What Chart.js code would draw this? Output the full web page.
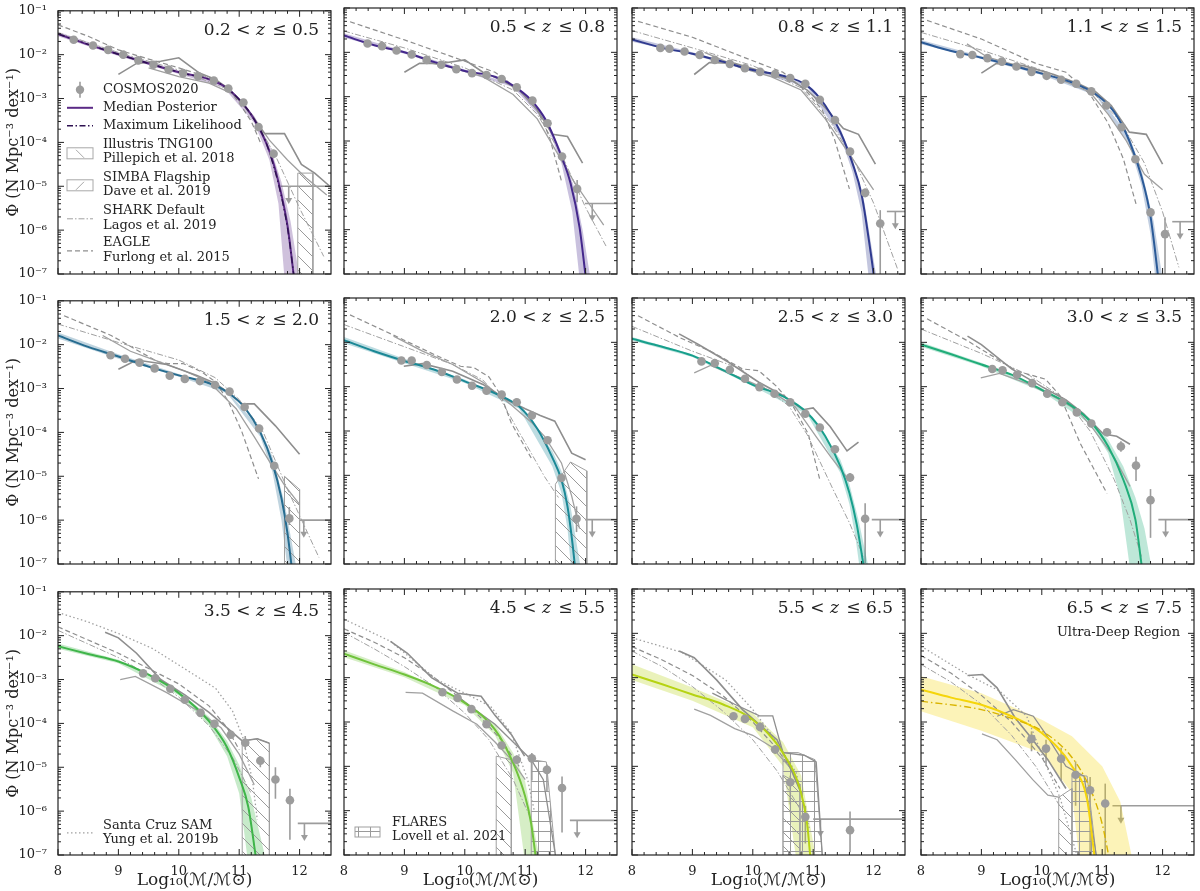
<!DOCTYPE html>
<html>
<head>
<meta charset="utf-8">
<script src="https://cdn.jsdelivr.net/npm/chart.js@4.4.0/dist/chart.umd.min.js"></script>
<style>
  html, body { margin: 0; padding: 0; background: #fff; }
  #wrap { position: relative; width: 1200px; height: 891px; overflow: hidden; }
  .panel { position: absolute; }
</style>
</head>
<body>
<div id="wrap"></div>
<script>
// ---- redshift bins ----
const zLo = ['0.2', '0.5', '0.8', '1.1', '1.5', '2.0', '2.5', '3.0', '3.5', '4.5', '5.5', '6.5'];
const zHi = ['0.5', '0.8', '1.1', '1.5', '2.0', '2.5', '3.0', '3.5', '4.5', '5.5', '6.5', '7.5'];

// ---- COSMOS2020 points (x = log10 M, y = log10 Phi) ----
const cosmosX = [
  [8.26, 8.58, 8.83, 9.08, 9.33, 9.58, 9.83, 10.07, 10.32, 10.58, 10.82, 11.07, 11.32, 11.57],
  [8.39, 8.63, 8.87, 9.12, 9.37, 9.61, 9.86, 10.12, 10.36, 10.61, 10.86, 11.12, 11.37, 11.61, 11.86],
  [8.47, 8.62, 8.87, 9.12, 9.37, 9.62, 9.87, 10.12, 10.37, 10.62, 10.87, 11.11, 11.36, 11.61, 11.86, 12.11],
  [8.65, 8.85, 9.1, 9.34, 9.58, 9.83, 10.08, 10.32, 10.57, 10.82, 11.07, 11.32, 11.55, 11.8, 12.04],
  [8.87, 9.11, 9.35, 9.6, 9.85, 10.1, 10.35, 10.6, 10.84, 11.09, 11.33, 11.58, 11.83],
  [8.95, 9.12, 9.37, 9.62, 9.87, 10.12, 10.36, 10.61, 10.86, 11.11, 11.37, 11.6, 11.85],
  [9.15, 9.37, 9.62, 9.87, 10.11, 10.36, 10.62, 10.87, 11.11, 11.36, 11.61, 11.86],
  [9.18, 9.35, 9.59, 9.84, 10.09, 10.34, 10.58, 10.82, 11.08, 11.31, 11.56, 11.8],
  [9.41, 9.61, 9.86, 10.1, 10.36, 10.59, 10.86, 11.1, 11.35, 11.6, 11.84],
  [9.63, 9.88, 10.11, 10.36, 10.61, 10.86, 11.11, 11.36, 11.61],
  [9.68, 9.87, 10.12, 10.37, 10.62, 10.87, 11.61],
  [9.83, 10.07, 10.32, 10.56, 10.8, 11.05]
];
const cosmosLogY = [
  [-1.66, -1.79, -1.89, -2.0, -2.13, -2.23, -2.34, -2.42, -2.49, -2.59, -2.77, -3.09, -3.65, -4.26],
  [-1.80, -1.86, -1.96, -2.05, -2.17, -2.28, -2.38, -2.47, -2.51, -2.60, -2.79, -3.09, -3.60, -4.35, -5.08],
  [-1.90, -1.92, -1.98, -2.06, -2.17, -2.26, -2.36, -2.44, -2.49, -2.58, -2.71, -3.07, -3.53, -4.24, -5.17, -5.86],
  [-2.04, -2.06, -2.13, -2.21, -2.32, -2.44, -2.53, -2.62, -2.71, -2.88, -3.2, -3.69, -4.41, -5.61, -6.1],
  [-2.24, -2.32, -2.41, -2.54, -2.71, -2.78, -2.83, -2.92, -3.07, -3.42, -3.91, -4.76, -5.96],
  [-2.41, -2.41, -2.51, -2.67, -2.84, -2.98, -3.09, -3.18, -3.35, -3.65, -4.21, -5.06, -5.98],
  [-2.43, -2.47, -2.62, -2.82, -3.01, -3.16, -3.35, -3.61, -3.92, -4.41, -5.05, -5.98],
  [-2.6, -2.63, -2.73, -2.92, -3.16, -3.35, -3.58, -3.83, -4.03, -4.35, -4.78, -5.56],
  [-2.86, -2.97, -3.21, -3.46, -3.76, -4.01, -4.26, -4.44, -4.85, -5.28, -5.75],
  [-3.33, -3.46, -3.71, -4.05, -4.53, -4.85, -4.82, -5.08, -5.49],
  [-3.87, -3.93, -4.11, -4.62, -5.36, -6.14, -6.44],
  [-4.38, -4.6, -4.83, -5.19, -5.54, -5.84]
];
// error bar half-lengths in dex (up / down)
const errUp = [
  [0.02, 0.02, 0.02, 0.02, 0.02, 0.02, 0.02, 0.02, 0.02, 0.02, 0.02, 0.03, 0.05, 0.1],
  [0.02, 0.02, 0.02, 0.02, 0.02, 0.02, 0.02, 0.02, 0.02, 0.02, 0.02, 0.03, 0.04, 0.08, 0.2],
  [0.02, 0.02, 0.02, 0.02, 0.02, 0.02, 0.02, 0.02, 0.02, 0.02, 0.02, 0.03, 0.04, 0.06, 0.1, 0.3],
  [0.02, 0.02, 0.02, 0.02, 0.02, 0.02, 0.02, 0.02, 0.02, 0.02, 0.03, 0.04, 0.06, 0.1, 0.38],
  [0.02, 0.02, 0.02, 0.02, 0.02, 0.02, 0.02, 0.02, 0.03, 0.04, 0.05, 0.08, 0.26],
  [0.02, 0.02, 0.02, 0.02, 0.02, 0.02, 0.02, 0.02, 0.03, 0.04, 0.06, 0.1, 0.28],
  [0.02, 0.02, 0.02, 0.02, 0.02, 0.02, 0.03, 0.04, 0.05, 0.07, 0.1, 0.35],
  [0.02, 0.02, 0.02, 0.02, 0.03, 0.03, 0.04, 0.05, 0.07, 0.12, 0.2, 0.25],
  [0.03, 0.03, 0.03, 0.04, 0.04, 0.05, 0.07, 0.15, 0.1, 0.28, 0.26],
  [0.05, 0.05, 0.06, 0.07, 0.08, 0.1, 0.12, 0.12, 0.26],
  [0.08, 0.08, 0.1, 0.1, 0.15, 0.25, 0.42],
  [0.17, 0.2, 0.25, 0.3, 0.3, 0.45]
];
const errDn = [
  [0.02, 0.02, 0.02, 0.02, 0.02, 0.02, 0.02, 0.02, 0.02, 0.02, 0.02, 0.03, 0.05, 0.1],
  [0.02, 0.02, 0.02, 0.02, 0.02, 0.02, 0.02, 0.02, 0.02, 0.02, 0.02, 0.03, 0.04, 0.08, 0.3],
  [0.02, 0.02, 0.02, 0.02, 0.02, 0.02, 0.02, 0.02, 0.02, 0.02, 0.02, 0.03, 0.04, 0.06, 0.1, 2.0],
  [0.02, 0.02, 0.02, 0.02, 0.02, 0.02, 0.02, 0.02, 0.02, 0.02, 0.03, 0.04, 0.06, 0.1, 2.0],
  [0.02, 0.02, 0.02, 0.02, 0.02, 0.02, 0.02, 0.02, 0.03, 0.04, 0.05, 0.08, 0.15],
  [0.02, 0.02, 0.02, 0.02, 0.02, 0.02, 0.02, 0.02, 0.03, 0.04, 0.06, 0.1, 0.3],
  [0.02, 0.02, 0.02, 0.02, 0.02, 0.02, 0.03, 0.04, 0.05, 0.07, 0.1, 1.0],
  [0.02, 0.02, 0.02, 0.02, 0.03, 0.03, 0.04, 0.05, 0.07, 0.12, 0.35, 0.85],
  [0.03, 0.03, 0.03, 0.04, 0.04, 0.05, 0.07, 0.15, 0.15, 0.44, 0.9],
  [0.05, 0.05, 0.06, 0.07, 0.08, 0.1, 0.5, 0.5, 1.0],
  [0.08, 0.08, 0.1, 0.1, 0.5, 0.6, 0.5],
  [0.28, 0.38, 0.5, 0.7, 1.5, 1.5]
];

// ---- upper limits (log10 Phi level, x range, arrow position) ----
const limLogY = [-5.0, -5.41, -5.59, -5.82, -6.0, -6.0, -6.0, -6.0, -6.28, -6.22, -6.19, -5.89];
const limX0 = [11.69, 11.99, 12.22, 12.16, 11.99, 11.99, 11.97, 11.93, 11.97, 11.74, 11.0, 11.17];
const limX1 = [12.6, 12.6, 12.6, 12.6, 12.6, 12.6, 12.6, 12.6, 12.6, 12.6, 12.6, 12.6];
const limArrowX = [11.82, 12.11, 12.36, 12.29, 12.07, 12.11, 12.11, 12.05, 12.08, 11.86, 11.12, 11.31];

// ---- median posterior ----
const medX = [
  [8, 8.5, 9, 9.5, 10, 10.5, 10.75, 11, 11.25, 11.5, 11.65, 11.8, 11.9, 12.0],
  [8, 8.5, 9, 9.5, 10, 10.5, 10.8, 11.1, 11.35, 11.6, 11.75, 11.9, 12.0, 12.1],
  [8, 8.5, 9, 9.5, 10, 10.5, 10.9, 11.2, 11.45, 11.65, 11.8, 11.95, 12.0, 12.1],
  [8, 8.5, 9, 9.5, 10, 10.5, 10.9, 11.2, 11.45, 11.65, 11.8, 11.92, 12.0],
  [8, 8.5, 9, 9.5, 10, 10.5, 10.8, 11.1, 11.35, 11.55, 11.7, 11.8, 11.88, 11.95],
  [8, 8.5, 9, 9.5, 10, 10.5, 10.9, 11.2, 11.45, 11.6, 11.7, 11.78, 11.85],
  [8, 8.5, 9, 9.5, 10, 10.5, 10.9, 11.2, 11.45, 11.6, 11.72, 11.83, 11.9],
  [8, 8.5, 9, 9.5, 10, 10.5, 10.8, 11.1, 11.35, 11.55, 11.65, 11.75],
  [8, 8.5, 9, 9.5, 10, 10.5, 10.8, 11.0, 11.15, 11.27, 11.35],
  [8, 8.5, 9, 9.5, 10, 10.5, 10.8, 11.0, 11.1, 11.17, 11.25],
  [8, 8.5, 9, 9.5, 10, 10.5, 10.8, 10.9, 10.95, 11.02],
  [8, 8.5, 9, 9.5, 10, 10.5, 10.75, 10.87, 10.95]
];
const medLogY = [
  [-1.53, -1.77, -1.99, -2.2, -2.4, -2.56, -2.72, -3.02, -3.48, -4.2, -4.9, -5.9, -7.0, -8.2],
  [-1.62, -1.84, -2.0, -2.22, -2.42, -2.55, -2.75, -3.08, -3.55, -4.35, -4.95, -5.95, -7.05, -8.2],
  [-1.71, -1.9, -2.03, -2.21, -2.4, -2.53, -2.75, -3.2, -3.8, -4.5, -5.2, -6.5, -7.0, -8.2],
  [-1.77, -1.97, -2.12, -2.29, -2.48, -2.68, -2.95, -3.35, -4.0, -4.8, -5.7, -7.0, -8.0],
  [-1.79, -2.05, -2.27, -2.5, -2.7, -2.88, -3.08, -3.45, -4.0, -4.7, -5.5, -6.3, -7.2, -8.0],
  [-1.95, -2.2, -2.42, -2.62, -2.88, -3.15, -3.45, -3.95, -4.6, -5.1, -5.7, -6.5, -7.4],
  [-1.92, -2.1, -2.3, -2.62, -2.96, -3.22, -3.59, -4.12, -4.8, -5.4, -6.1, -7.0, -7.6],
  [-2.05, -2.27, -2.5, -2.73, -3.07, -3.44, -3.78, -4.35, -5.1, -6.0, -7.0, -8.0],
  [-2.24, -2.42, -2.59, -2.89, -3.31, -3.95, -4.55, -5.23, -5.9, -7.0, -7.8],
  [-2.46, -2.7, -2.93, -3.2, -3.57, -4.17, -4.92, -5.68, -6.3, -7.0, -7.8],
  [-2.93, -3.15, -3.38, -3.6, -3.95, -4.7, -5.6, -6.3, -7.0, -7.8],
  [-3.27, -3.45, -3.61, -3.87, -4.25, -5.0, -5.75, -7.0, -7.8]
];

// ---- maximum likelihood (only where it separates visibly) ----
const mlX = [
  [8, 9, 10, 10.75, 11.25, 11.5, 11.8, 11.92],
  null, null, null, null, null, null, null, null, null, null,
  [8, 9, 9.5, 10, 10.5, 10.8, 11.0, 11.12]
];
const mlLogY = [
  [-1.53, -1.99, -2.4, -2.72, -3.48, -4.22, -5.95, -7.2],
  null, null, null, null, null, null, null, null, null, null,
  [-3.53, -3.72, -3.92, -4.2, -4.8, -5.5, -6.3, -7.1]
];

// ---- posterior band edges ----
const bandHiX = [
  [8, 9, 10, 10.75, 11.25, 11.5, 11.7, 11.85, 12.0],
  [8, 9, 10, 10.8, 11.35, 11.6, 11.8, 11.95, 12.08],
  [8, 9, 10, 10.9, 11.45, 11.65, 11.85, 12.05],
  [8, 9, 10, 10.9, 11.45, 11.65, 11.85, 12.0],
  [8, 9, 10, 10.8, 11.35, 11.55, 11.75, 11.95],
  [8, 9, 10, 10.9, 11.45, 11.6, 11.75, 11.92],
  [8, 9, 10, 10.9, 11.45, 11.6, 11.75, 11.92],
  [8, 9, 10, 10.8, 11.1, 11.35, 11.55, 11.7, 11.82],
  [8, 9, 10, 10.5, 10.8, 11.0, 11.2, 11.44],
  [8, 9, 10, 10.5, 10.8, 11.0, 11.24],
  [8, 9, 10, 10.5, 10.8, 11.05],
  [8, 9, 10, 10.5, 11.0, 11.3, 11.5]
];
const bandHiLogY = [
  [-1.48, -1.95, -2.36, -2.68, -3.4, -4.05, -4.9, -5.8, -7.1],
  [-1.57, -1.97, -2.39, -2.72, -3.5, -4.25, -5.0, -6.0, -7.1],
  [-1.66, -2.0, -2.37, -2.72, -3.72, -4.4, -5.4, -7.1],
  [-1.72, -2.09, -2.45, -2.92, -3.9, -4.65, -5.8, -7.1],
  [-1.72, -2.22, -2.67, -3.05, -3.92, -4.55, -5.6, -7.1],
  [-1.88, -2.37, -2.84, -3.4, -4.45, -4.9, -5.7, -7.1],
  [-1.88, -2.27, -2.93, -3.55, -4.65, -5.2, -6.0, -7.1],
  [-2.0, -2.46, -3.03, -3.72, -4.2, -4.8, -5.5, -6.2, -7.1],
  [-2.18, -2.55, -3.26, -3.85, -4.4, -4.95, -5.7, -7.1],
  [-2.38, -2.87, -3.52, -4.05, -4.7, -5.35, -7.1],
  [-2.7, -3.22, -3.8, -4.45, -5.2, -7.1],
  [-2.97, -3.35, -3.95, -4.32, -5.0, -5.8, -7.1]
];
const bandLoX = [
  [8, 9, 10, 10.75, 11.25, 11.5, 11.65, 11.75],
  [8, 9, 10, 10.8, 11.35, 11.6, 11.78, 11.9],
  [8, 9, 10, 10.9, 11.45, 11.65, 11.8, 11.92],
  [8, 9, 10, 10.9, 11.45, 11.65, 11.8, 11.88],
  [8, 9, 10, 10.8, 11.35, 11.55, 11.7, 11.8],
  [8, 9, 10, 10.9, 11.45, 11.6, 11.7, 11.76],
  [8, 9, 10, 10.9, 11.45, 11.6, 11.7, 11.77],
  [8, 9, 10, 10.8, 11.1, 11.3, 11.46],
  [8, 9, 10, 10.5, 10.8, 11.0, 11.14],
  [8, 9, 10, 10.5, 10.8, 10.99],
  [8, 9, 10, 10.5, 10.72],
  [8, 9, 10, 10.5, 10.62]
];
const bandLoLogY = [
  [-1.58, -2.03, -2.44, -2.76, -3.56, -4.4, -5.4, -7.1],
  [-1.67, -2.03, -2.45, -2.78, -3.6, -4.5, -5.6, -7.1],
  [-1.76, -2.06, -2.43, -2.78, -3.9, -4.7, -5.6, -7.1],
  [-1.82, -2.15, -2.51, -2.98, -4.1, -5.0, -6.1, -7.1],
  [-1.86, -2.32, -2.73, -3.11, -4.1, -4.9, -6.0, -7.1],
  [-2.02, -2.47, -2.92, -3.5, -4.8, -5.4, -6.2, -7.1],
  [-1.96, -2.33, -2.99, -3.63, -4.95, -5.65, -6.4, -7.1],
  [-2.1, -2.54, -3.11, -3.84, -4.5, -5.5, -7.1],
  [-2.3, -2.63, -3.36, -4.05, -4.75, -5.6, -7.1],
  [-2.54, -2.99, -3.62, -4.3, -5.15, -7.1],
  [-3.05, -3.52, -4.12, -5.0, -7.1],
  [-3.76, -4.2, -4.7, -5.6, -7.1]
];

// ---- simulations ----
const eagleX = [
  [8, 8.5, 9, 9.5, 10, 10.5, 10.8, 11, 11.2, 11.35],
  [8.1, 9, 10, 10.5, 10.9, 11.2, 11.4, 11.6],
  [8.1, 9, 10, 10.5, 10.9, 11.15, 11.35, 11.6],
  [8.1, 9, 9.9, 10.4, 10.8, 11.1, 11.35, 11.56],
  [8.1, 8.88, 9.65, 9.82, 10.07, 10.38, 10.6, 10.82, 11.04, 11.32],
  [8.1, 8.98, 9.5, 9.93, 10.15, 10.4, 10.6, 10.77, 11.1],
  [8.1, 8.8, 9.3, 9.83, 10.1, 10.4, 10.65, 10.92, 11.11],
  [8.1, 8.75, 9.59, 10.06, 10.3, 10.64, 11.08],
  [8, 8.5, 9, 9.5, 10, 10.5, 10.8, 11.0],
  [8, 8.5, 9, 9.5, 10, 10.3, 10.6, 10.9],
  [8, 8.5, 9, 9.5, 10, 10.4, 10.7],
  [8, 8.5, 9, 9.5, 10, 10.3]
];
const eagleLogY = [
  [-1.32, -1.58, -1.89, -2.1, -2.3, -2.52, -2.74, -3.1, -3.52, -4.0],
  [-1.31, -1.72, -2.2, -2.45, -2.85, -3.3, -3.9, -4.9],
  [-1.3, -1.66, -2.19, -2.45, -2.9, -3.3, -3.95, -5.08],
  [-1.28, -1.7, -2.25, -2.45, -2.95, -3.6, -4.4, -5.42],
  [-1.34, -1.79, -2.39, -2.43, -2.43, -2.62, -2.84, -3.29, -3.97, -5.06],
  [-1.38, -1.94, -2.28, -2.54, -2.57, -2.78, -3.2, -3.82, -4.61],
  [-1.4, -1.9, -2.2, -2.6, -2.64, -3.0, -3.4, -4.07, -5.1],
  [-1.47, -1.95, -2.65, -2.83, -3.2, -4.29, -5.41],
  [-1.8, -2.1, -2.4, -2.75, -3.1, -3.6, -4.1, -4.6],
  [-1.9, -2.2, -2.55, -3.0, -3.55, -3.95, -4.4, -5.0],
  [-2.3, -2.6, -2.95, -3.4, -4.0, -4.6, -5.2],
  [-2.5, -2.9, -3.4, -4.0, -4.8, -5.5]
];
const sharkX = [
  [8, 9, 10, 10.8, 11.2, 11.6, 12.0, 12.4],
  [8, 9, 10, 10.8, 11.2, 11.6, 12.0, 12.35],
  [8, 9, 10, 10.8, 11.3, 11.7, 12.0, 12.4],
  [8, 9, 10, 10.8, 11.3, 11.7, 12.0, 12.27],
  [8, 9, 10, 10.6, 11.0, 11.4, 11.8, 12.32],
  [8, 9, 9.8, 10.3, 10.6, 10.88, 11.1, 11.32, 11.55],
  [8, 9, 9.8, 10.6, 10.9, 11.33, 11.6, 11.83],
  [8, 9, 9.8, 10.4, 10.8, 11.2, 11.46, 11.65],
  [8, 9, 9.5, 10, 10.5, 10.9, 11.2],
  [8, 8.5, 9, 9.5, 10, 10.4, 10.8, 11.1],
  [8, 8.5, 9, 9.5, 10, 10.4, 10.8],
  [8, 8.5, 9, 9.5, 9.9, 10.3]
];
const sharkLogY = [
  [-1.5, -1.95, -2.35, -2.78, -3.35, -4.3, -5.5, -6.6],
  [-1.52, -1.9, -2.35, -2.85, -3.4, -4.3, -5.5, -6.4],
  [-1.51, -1.9, -2.3, -2.8, -3.6, -4.5, -5.4, -6.9],
  [-1.55, -1.95, -2.4, -2.85, -3.55, -4.5, -5.6, -6.85],
  [-1.53, -1.95, -2.35, -2.75, -3.25, -4.0, -5.3, -6.85],
  [-1.6, -2.1, -2.5, -2.85, -3.3, -3.98, -4.5, -5.03, -5.5],
  [-1.64, -2.2, -2.6, -3.44, -4.08, -5.32, -6.07, -6.83],
  [-1.7, -2.25, -2.75, -3.3, -4.0, -5.1, -6.0, -6.83],
  [-1.88, -2.5, -2.9, -3.4, -4.05, -4.8, -5.6],
  [-1.98, -2.35, -2.75, -3.2, -3.8, -4.4, -5.3, -6.2],
  [-2.4, -2.75, -3.2, -3.75, -4.4, -5.1, -6.0],
  [-2.7, -3.1, -3.6, -4.3, -5.0, -5.9]
];
const tngX = [
  [9.0, 9.3, 9.7, 10.0, 10.33, 10.6, 10.85, 11.1, 11.42, 11.75, 12.03, 12.25, 12.5],
  [9.0, 9.25, 9.6, 10.0, 10.3, 10.6, 10.9, 11.2, 11.45, 11.7, 11.95],
  [9.03, 9.28, 9.7, 10.2, 10.6, 10.9, 11.2, 11.5, 11.75, 12.03],
  [9.0, 9.25, 9.7, 10.2, 10.6, 10.9, 11.15, 11.45, 11.73, 12.0],
  [9.0, 9.3, 9.8, 10.3, 10.6, 10.85, 11.05, 11.25, 11.6, 12.0],
  [8.99, 9.3, 9.8, 10.3, 10.7, 11.0, 11.25, 11.49, 11.77, 12.0],
  [8.78, 9.1, 9.6, 10.1, 10.5, 10.83, 11.0, 11.28, 11.56, 11.75],
  [8.77, 9.0, 9.5, 10.0, 10.4, 10.69, 11.02, 11.24, 11.46],
  [8.78, 9.0, 9.3, 9.7, 10.1, 10.5, 10.8, 11.05, 11.3, 11.5],
  [8.77, 9.05, 9.45, 9.88, 10.27, 10.5, 10.77, 10.99],
  [8.78, 9.03, 9.4, 9.83, 10.1, 10.4, 10.61, 10.8],
  [8.77, 9.02, 9.26, 9.56, 9.85, 10.1, 10.4]
];
const tngLogY = [
  [-2.45, -2.2, -2.15, -2.07, -2.41, -2.56, -2.8, -3.2, -3.8, -3.8, -4.5, -4.7, -5.0],
  [-2.45, -2.25, -2.25, -2.17, -2.45, -2.62, -2.85, -3.3, -3.85, -3.9, -4.5],
  [-2.5, -2.23, -2.25, -2.45, -2.6, -2.85, -3.25, -3.72, -3.85, -4.52],
  [-2.47, -2.25, -2.3, -2.5, -2.7, -2.9, -3.2, -3.8, -3.85, -4.52],
  [-2.56, -2.35, -2.45, -2.7, -2.88, -3.12, -3.35, -3.35, -3.85, -4.5],
  [-2.54, -2.48, -2.65, -2.95, -3.3, -3.5, -3.65, -3.78, -4.5, -4.65],
  [-1.81, -2.05, -2.45, -2.9, -3.2, -3.52, -3.48, -3.9, -4.45, -4.25],
  [-1.86, -2.05, -2.6, -3.0, -3.3, -3.61, -4.07, -4.12, -4.3],
  [-1.92, -2.05, -2.4, -3.0, -3.35, -3.75, -4.1, -4.4, -4.35, -4.45],
  [-2.18, -2.45, -3.0, -3.35, -3.42, -3.85, -4.28, -4.77],
  [-2.4, -2.55, -3.05, -3.72, -4.05, -4.4, -5.0, -5.6],
  [-2.95, -2.93, -3.23, -3.91, -4.4, -4.85, -5.5]
];
const simbaX = [
  [9.5, 10, 10.5, 10.9, 11.2, 11.5, 11.8, 12.1, 12.45],
  [9.3, 9.8, 10.3, 10.8, 11.2, 11.5, 11.8, 12.1, 12.3],
  [9.2, 9.8, 10.3, 10.8, 11.2, 11.5, 11.8, 12.0],
  [8.76, 9.1, 9.6, 10.2, 10.8, 11.1, 11.4, 11.7, 12.0],
  [8.74, 9.2, 9.6, 10.1, 10.5, 10.95, 11.25, 11.5, 11.75, 12.0],
  [8.82, 9.3, 9.8, 10.3, 10.8, 11.1, 11.32, 11.6, 11.77, 11.9],
  [9.03, 9.3, 9.8, 10.3, 10.7, 11.06, 11.3, 11.56],
  [8.99, 9.3, 9.8, 10.3, 10.6, 10.86, 11.2, 11.46],
  [9.03, 9.28, 9.8, 10.3, 10.7, 11.0, 11.25],
  [9.02, 9.3, 9.8, 10.2, 10.5, 10.77, 11.0],
  [9.03, 9.3, 9.7, 10.0, 10.3, 10.6],
  [9.01, 9.26, 9.56, 9.85, 10.1, 10.3]
];
const simbaLogY = [
  [-2.3, -2.5, -2.65, -2.9, -3.35, -3.95, -4.4, -4.8, -5.2],
  [-2.2, -2.35, -2.55, -2.95, -3.5, -4.2, -4.9, -5.5, -5.9],
  [-2.0, -2.35, -2.55, -2.85, -3.5, -4.1, -4.7, -5.1],
  [-1.81, -2.11, -2.3, -2.55, -2.9, -3.4, -4.0, -4.75, -5.1],
  [-1.79, -2.15, -2.35, -2.6, -2.85, -3.46, -4.1, -4.66, -5.2, -5.64],
  [-1.86, -2.2, -2.5, -2.9, -3.45, -3.8, -4.12, -4.72, -5.47, -6.2],
  [-2.69, -2.52, -2.8, -3.1, -3.45, -4.15, -4.6, -5.05],
  [-2.8, -2.7, -2.95, -3.3, -3.55, -3.97, -4.6, -5.25],
  [-3.0, -2.93, -3.3, -3.7, -4.1, -4.7, -5.4],
  [-3.33, -3.35, -3.75, -4.05, -4.45, -4.85, -5.3],
  [-3.71, -3.85, -4.15, -4.3, -4.55, -5.0],
  [-4.27, -4.4, -4.85, -5.3, -5.65, -5.7]
];
const scamX = [null, null, null, null, null, null, null, null,
  [8, 8.5, 9.0, 9.56, 10.0, 10.61, 10.89, 11.06, 11.22, 11.3],
  [8, 8.77, 9.54, 10.0, 10.43, 10.77, 11.04, 11.15],
  [8, 8.83, 9.55, 10.0, 10.33, 10.72, 10.94],
  [8, 8.77, 9.3, 9.75, 10.08, 10.3, 10.57]
];
const scamLogY = [null, null, null, null, null, null, null, null,
  [-1.47, -1.69, -1.95, -2.29, -2.67, -3.2, -3.72, -4.32, -5.3, -6.2],
  [-1.68, -2.18, -3.05, -3.35, -3.65, -4.25, -5.3, -6.0],
  [-2.1, -2.43, -3.05, -3.72, -4.32, -5.15, -6.43],
  [-2.29, -2.93, -3.3, -3.87, -5.0, -5.7, -6.95]
];
const flaresX = [null, null, null, null, null, null, null, null, null,
  [9.9, 10.2, 10.5, 10.8, 11.1, 11.3, 11.5],
  [9.33, 9.7, 10.11, 10.33, 10.5, 10.85, 11.05, 11.15],
  [9.26, 9.53, 9.86, 10.08, 10.4, 10.7, 10.9]
];
const flaresLogY = [null, null, null, null, null, null, null, null, null,
  [-3.45, -3.75, -4.05, -4.45, -4.85, -5.3, -7.0],
  [-3.35, -3.6, -3.86, -3.86, -4.69, -4.75, -4.9, -7.0],
  [-3.87, -3.72, -3.87, -4.3, -5.0, -5.22, -7.0]
];
// hatched envelopes: top edge, filled down to the axis
const diagHatchX = [[11.97, 12.22], null, null, null, [11.75, 12.0], [11.5, 11.75, 12.02], null, null,
  [11.05, 11.3, 11.5], [10.52, 10.77], [10.5, 10.78], [10.28, 10.5]];
const diagHatchLogY = [[-4.7, -4.7], null, null, null, [-5.0, -5.3], [-5.2, -4.7, -4.9], null, null,
  [-4.4, -4.35, -4.45], [-4.77, -4.85], [-5.2, -5.4], [-5.7, -5.5]];
const gridHatchX = [null, null, null, null, null, null, null, null, null,
  [11.1, 11.35, 11.5], [10.5, 10.75, 11.03, 11.15], [10.5, 10.75, 10.9]];
const gridHatchLogY = [null, null, null, null, null, null, null, null, null,
  [-4.85, -4.9, -7.0], [-4.69, -4.69, -4.85, -7.0], [-5.2, -5.22, -7.0]];

const legendLabels = ['COSMOS2020', 'Median Posterior', 'Maximum Likelihood', 'Illustris TNG100', 'Pillepich et al. 2018',
  'SIMBA Flagship', 'Dave et al. 2019', 'SHARK Default', 'Lagos et al. 2019', 'EAGLE', 'Furlong et al. 2015'];

// ---- styling ----
const panelColor = ['#5b2a86', '#44288c', '#2f3a8f', '#2c5b98', '#266c90', '#1b8896',
  '#179f8c', '#20ad79', '#3fb54a', '#70c33c', '#b6d313', '#f5d50a'];
const mlColor = ['#2d1050', null, null, null, null, null, null, null, null, null, null, '#d9b400'];
const SERIF = "'DejaVu Serif', 'DejaVu Sans', 'Liberation Serif', serif";
const GREY = '#8e8e8e', PTGREY = '#9c9c9c', INK = '#222';
const colLeft = [58, 344, 632, 921], rowTop = [8, 298, 589];
const PW = 273, PH = 266, AXW = 58, AXH = 36, PADT = 8, PADR = 6;
const XMIN = 8, XMAX = 12.52;

const SUP = {'-': '⁻', '0': '⁰', '1': '¹', '2': '²', '3': '³', '4': '⁴', '5': '⁵', '6': '⁶', '7': '⁷', '8': '⁸', '9': '⁹'};
const P = v => Math.pow(10, v);
const pts = (xs, ys) => xs.map((x, i) => ({x: x, y: P(ys[i])}));

function makePattern(kind) {
  const c = document.createElement('canvas');
  if (kind === 'diag') { c.width = 14; c.height = 14; } else { c.width = 12; c.height = 10; }
  const g = c.getContext('2d');
  g.strokeStyle = '#9a9a9a'; g.lineWidth = 1;
  g.beginPath();
  if (kind === 'diag') {
    g.moveTo(0, 0); g.lineTo(14, 14);
    g.moveTo(-7, 7); g.lineTo(7, 21);
    g.moveTo(7, -7); g.lineTo(21, 7);
  } else {
    g.moveTo(0.5, 0); g.lineTo(0.5, 10);
    g.moveTo(0, 0.5); g.lineTo(12, 0.5);
  }
  g.stroke();
  return g.createPattern(c, 'repeat');
}
const diagPat = makePattern('diag');
const gridPat = makePattern('grid');

function line(ctx, x1, y1, x2, y2) {
  ctx.beginPath(); ctx.moveTo(x1, y1); ctx.lineTo(x2, y2); ctx.stroke();
}

// error bars and upper limits, under the markers
const errPlugin = {
  id: 'errbars',
  beforeDatasetsDraw(chart) {
    const p = chart.options.plugins.panelIndex;
    const ctx = chart.ctx, a = chart.chartArea, xs = chart.scales.x, ys = chart.scales.y;
    ctx.save();
    ctx.beginPath(); ctx.rect(a.left, a.top, a.right - a.left, a.bottom - a.top); ctx.clip();
    ctx.strokeStyle = PTGREY; ctx.fillStyle = PTGREY; ctx.lineWidth = 1.6;
    cosmosX[p].forEach((x, i) => {
      const px = xs.getPixelForValue(x);
      line(ctx, px, ys.getPixelForValue(P(cosmosLogY[p][i] + errUp[p][i])),
        px, ys.getPixelForValue(P(cosmosLogY[p][i] - errDn[p][i])));
    });
    const ly = ys.getPixelForValue(P(limLogY[p]));
    line(ctx, xs.getPixelForValue(limX0[p]), ly, xs.getPixelForValue(limX1[p]), ly);
    const ax = xs.getPixelForValue(limArrowX[p]);
    const ay = ys.getPixelForValue(P(limLogY[p] - 0.38));
    line(ctx, ax, ly, ax, ay - 4);
    ctx.beginPath(); ctx.moveTo(ax - 3.5, ay - 5); ctx.lineTo(ax + 3.5, ay - 5); ctx.lineTo(ax, ay + 1); ctx.closePath(); ctx.fill();
    ctx.restore();
  }
};

function drawLegendPanel1(ctx, a) {
  const x0 = a.left + 9, x1 = a.left + 35, tx = a.left + 45;
  ctx.font = '13px ' + SERIF; ctx.fillStyle = INK; ctx.textBaseline = 'middle'; ctx.textAlign = 'left';
  const ty = [79, 97, 115, 134, 148, 167, 181, 200, 215, 232, 247];
  legendLabels.forEach((s, i) => ctx.fillText(s, tx, a.top + ty[i]));
  // COSMOS marker
  ctx.strokeStyle = PTGREY; ctx.fillStyle = PTGREY; ctx.lineWidth = 1.6;
  line(ctx, a.left + 22, a.top + 71, a.left + 22, a.top + 87);
  ctx.beginPath(); ctx.arc(a.left + 22, a.top + 79, 4.2, 0, Math.PI * 2); ctx.fill();
  // median / ML
  ctx.strokeStyle = panelColor[0]; ctx.lineWidth = 2;
  line(ctx, x0, a.top + 97, x1, a.top + 97);
  ctx.strokeStyle = mlColor[0]; ctx.lineWidth = 1.4; ctx.setLineDash([6, 2.5, 1.5, 2.5]);
  line(ctx, x0, a.top + 115, x1, a.top + 115);
  ctx.setLineDash([]);
  // TNG & SIMBA boxes
  ctx.strokeStyle = '#a8a8a8'; ctx.lineWidth = 1;
  ctx.strokeRect(x0, a.top + 137, 26, 11);
  line(ctx, x0 + 9, a.top + 139, x0 + 17, a.top + 147);
  ctx.strokeRect(x0, a.top + 169, 26, 11);
  line(ctx, x0 + 9, a.top + 179, x0 + 17, a.top + 171);
  // SHARK / EAGLE
  ctx.strokeStyle = '#a0a0a0'; ctx.lineWidth = 1; ctx.setLineDash([6, 2, 1.5, 2]);
  line(ctx, x0, a.top + 208, x1, a.top + 208);
  ctx.setLineDash([5, 3]); ctx.lineWidth = 1.2; ctx.strokeStyle = GREY;
  line(ctx, x0, a.top + 240, x1, a.top + 240);
  ctx.setLineDash([]);
}

const decorPlugin = {
  id: 'decor',
  afterDraw(chart) {
    const p = chart.options.plugins.panelIndex;
    const ctx = chart.ctx, a = chart.chartArea, xs = chart.scales.x, ys = chart.scales.y;
    ctx.save();
    // frame
    ctx.strokeStyle = INK; ctx.lineWidth = 1.2;
    ctx.strokeRect(a.left, a.top, a.right - a.left, a.bottom - a.top);
    // inward ticks
    ctx.lineWidth = 1;
    for (let k = 0; k <= 22; k++) {
      const v = XMIN + k * 0.2;
      if (v > XMAX) break;
      const len = (k % 5 === 0) ? 6 : 3;
      const px = xs.getPixelForValue(v);
      line(ctx, px, a.bottom, px, a.bottom - len);
      line(ctx, px, a.top, px, a.top + len);
    }
    for (let e = -7; e <= -1; e++) {
      for (let m = 1; m <= 9; m++) {
        if (e === -1 && m > 1) break;
        const py = ys.getPixelForValue(m * Math.pow(10, e));
        const len = m === 1 ? 6 : 3;
        line(ctx, a.left, py, a.left + len, py);
        line(ctx, a.right, py, a.right - len, py);
      }
    }
    // redshift label
    const fN = '17px ' + SERIF, fI = 'italic 17px ' + SERIF;
    const s1 = zLo[p] + ' < ', s2 = 'z', s3 = ' \u2264 ' + zHi[p];
    ctx.font = fN; const w1 = ctx.measureText(s1).width, w3 = ctx.measureText(s3).width;
    ctx.font = fI; const w2 = ctx.measureText(s2).width;
    let x = a.right - 14 - (w1 + w2 + w3);
    const y = a.top + 20;
    ctx.fillStyle = INK; ctx.textBaseline = 'middle'; ctx.textAlign = 'left';
    ctx.font = fN; ctx.fillText(s1, x, y); x += w1;
    ctx.font = fI; ctx.fillText(s2, x, y); x += w2 + 2;
    ctx.font = fN; ctx.fillText(s3, x, y);
    if (p === 0) drawLegendPanel1(ctx, a);
    if (p === 8) {
      ctx.strokeStyle = '#a0a0a0'; ctx.lineWidth = 1.3; ctx.setLineDash([1.5, 2.5]);
      line(ctx, a.left + 9, a.top + 241, a.left + 35, a.top + 241);
      ctx.setLineDash([]);
      ctx.font = '13px ' + SERIF; ctx.fillStyle = INK;
      ctx.fillText('Santa Cruz SAM', a.left + 45, a.top + 234);
      ctx.fillText('Yung et al. 2019b', a.left + 45, a.top + 248);
    }
    if (p === 9) {
      ctx.fillStyle = gridPat; ctx.fillRect(a.left + 11, a.top + 238, 25, 10);
      ctx.strokeStyle = '#a0a0a0'; ctx.lineWidth = 1; ctx.strokeRect(a.left + 11, a.top + 238, 25, 10);
      ctx.font = '13px ' + SERIF; ctx.fillStyle = INK;
      ctx.fillText('FLARES', a.left + 48, a.top + 234);
      ctx.fillText('Lovell et al. 2021', a.left + 48, a.top + 248);
    }
    if (p === 11) {
      ctx.font = '13px ' + SERIF; ctx.fillStyle = INK; ctx.textAlign = 'right';
      ctx.fillText('Ultra-Deep Region', a.right - 14, a.top + 44);
    }
    ctx.restore();
  }
};

const wrap = document.getElementById('wrap');
for (let p = 0; p < 12; p++) {
  const row = Math.floor(p / 4), col = p % 4;
  const div = document.createElement('div');
  div.className = 'panel';
  div.style.left = (colLeft[col] - AXW) + 'px';
  div.style.top = (rowTop[row] - PADT) + 'px';
  const cv = document.createElement('canvas');
  const W = AXW + PW + PADR, H = PADT + PH + AXH;
  cv.width = W; cv.height = H; cv.style.width = W + 'px'; cv.style.height = H + 'px';
  div.appendChild(cv); wrap.appendChild(div);

  const ds = [];
  ds.push({data: pts(cosmosX[p], cosmosLogY[p]), showLine: false, pointRadius: 4.3,
    pointBackgroundColor: PTGREY, pointBorderWidth: 0, order: 0});
  if (mlX[p]) ds.push({data: pts(mlX[p], mlLogY[p]), borderColor: mlColor[p], borderWidth: 1.4,
    borderDash: [7, 3, 1.5, 3], pointRadius: 0, cubicInterpolationMode: 'monotone', order: 1});
  ds.push({data: pts(medX[p], medLogY[p]), borderColor: panelColor[p], borderWidth: 2,
    pointRadius: 0, cubicInterpolationMode: 'monotone', order: 2});
  ds.push({data: pts(tngX[p], tngLogY[p]), borderColor: GREY, borderWidth: 1.6, pointRadius: 0, order: 3});
  ds.push({data: pts(simbaX[p], simbaLogY[p]), borderColor: '#a0a0a0', borderWidth: 1.3, pointRadius: 0, order: 3});
  ds.push({data: pts(eagleX[p], eagleLogY[p]), borderColor: GREY, borderWidth: 1.2, borderDash: [5, 3], pointRadius: 0, order: 3});
  ds.push({data: pts(sharkX[p], sharkLogY[p]), borderColor: '#a0a0a0', borderWidth: 1, borderDash: [6, 2, 1.5, 2], pointRadius: 0, order: 3});
  if (scamX[p]) ds.push({data: pts(scamX[p], scamLogY[p]), borderColor: '#a0a0a0', borderWidth: 1.3, borderDash: [1.5, 2.5], pointRadius: 0, order: 3});
  if (flaresX[p]) ds.push({data: pts(flaresX[p], flaresLogY[p]), borderColor: GREY, borderWidth: 1.3, pointRadius: 0, order: 3});
  if (diagHatchX[p]) {
    const hx = diagHatchX[p];
    ds.push({data: [...pts(hx, diagHatchLogY[p]), {x: hx[hx.length - 1], y: 1e-9}, {x: hx[0], y: 1e-9}, {x: hx[0], y: P(diagHatchLogY[p][0])}],
      fill: 'shape', backgroundColor: diagPat, borderColor: '#a0a0a0', borderWidth: 1, pointRadius: 0, order: 4});
  }
  if (gridHatchX[p]) {
    const hx = gridHatchX[p];
    ds.push({data: [...pts(hx, gridHatchLogY[p]), {x: hx[hx.length - 1], y: 1e-9}, {x: hx[0], y: 1e-9}, {x: hx[0], y: P(gridHatchLogY[p][0])}],
      fill: 'shape', backgroundColor: gridPat, borderColor: '#a0a0a0', borderWidth: 1, pointRadius: 0, order: 4});
  }
  ds.push({data: [...pts(bandHiX[p], bandHiLogY[p]), ...pts(bandLoX[p], bandLoLogY[p]).reverse()],
    fill: 'shape', backgroundColor: panelColor[p] + '4a', borderWidth: 0, pointRadius: 0, order: 9});

  new Chart(cv, {
    type: 'line',
    data: {datasets: ds},
    options: {
      animation: false, responsive: false, maintainAspectRatio: false,
      layout: {padding: {top: PADT, right: PADR, left: 0, bottom: 0}},
      plugins: {legend: {display: false}, tooltip: {enabled: false}, panelIndex: p},
      scales: {
        x: {
          type: 'linear', min: XMIN, max: XMAX,
          grid: {display: false}, border: {display: false},
          ticks: {display: row === 2, stepSize: 1, includeBounds: false, padding: 1, maxRotation: 0,
            color: INK, font: {family: SERIF, size: 13}},
          title: {display: row === 2, text: 'Log₁₀(ℳ/ℳ⊙)', color: INK,
            font: {family: SERIF, size: 17}, padding: {top: 0, bottom: 0}},
          afterFit: s => { s.height = AXH; }
        },
        y: {
          type: 'logarithmic', min: 1e-7, max: 1e-1,
          grid: {display: false}, border: {display: false},
          ticks: {display: col === 0, autoSkip: false, padding: 3, color: INK, font: {family: SERIF, size: 13},
            callback: v => {
              const e = Math.log10(v), r = Math.round(e);
              return Math.abs(e - r) < 1e-6 ? '10' + String(r).split('').map(c => SUP[c]).join('') : '';
            }},
          title: {display: col === 0, text: 'Φ (N Mpc⁻³ dex⁻¹)', color: INK,
            font: {family: SERIF, size: 16}, padding: {top: 4, bottom: 0}},
          afterFit: s => { s.width = AXW; }
        }
      }
    },
    plugins: [errPlugin, decorPlugin]
  });
}
</script>
</body>
</html>
